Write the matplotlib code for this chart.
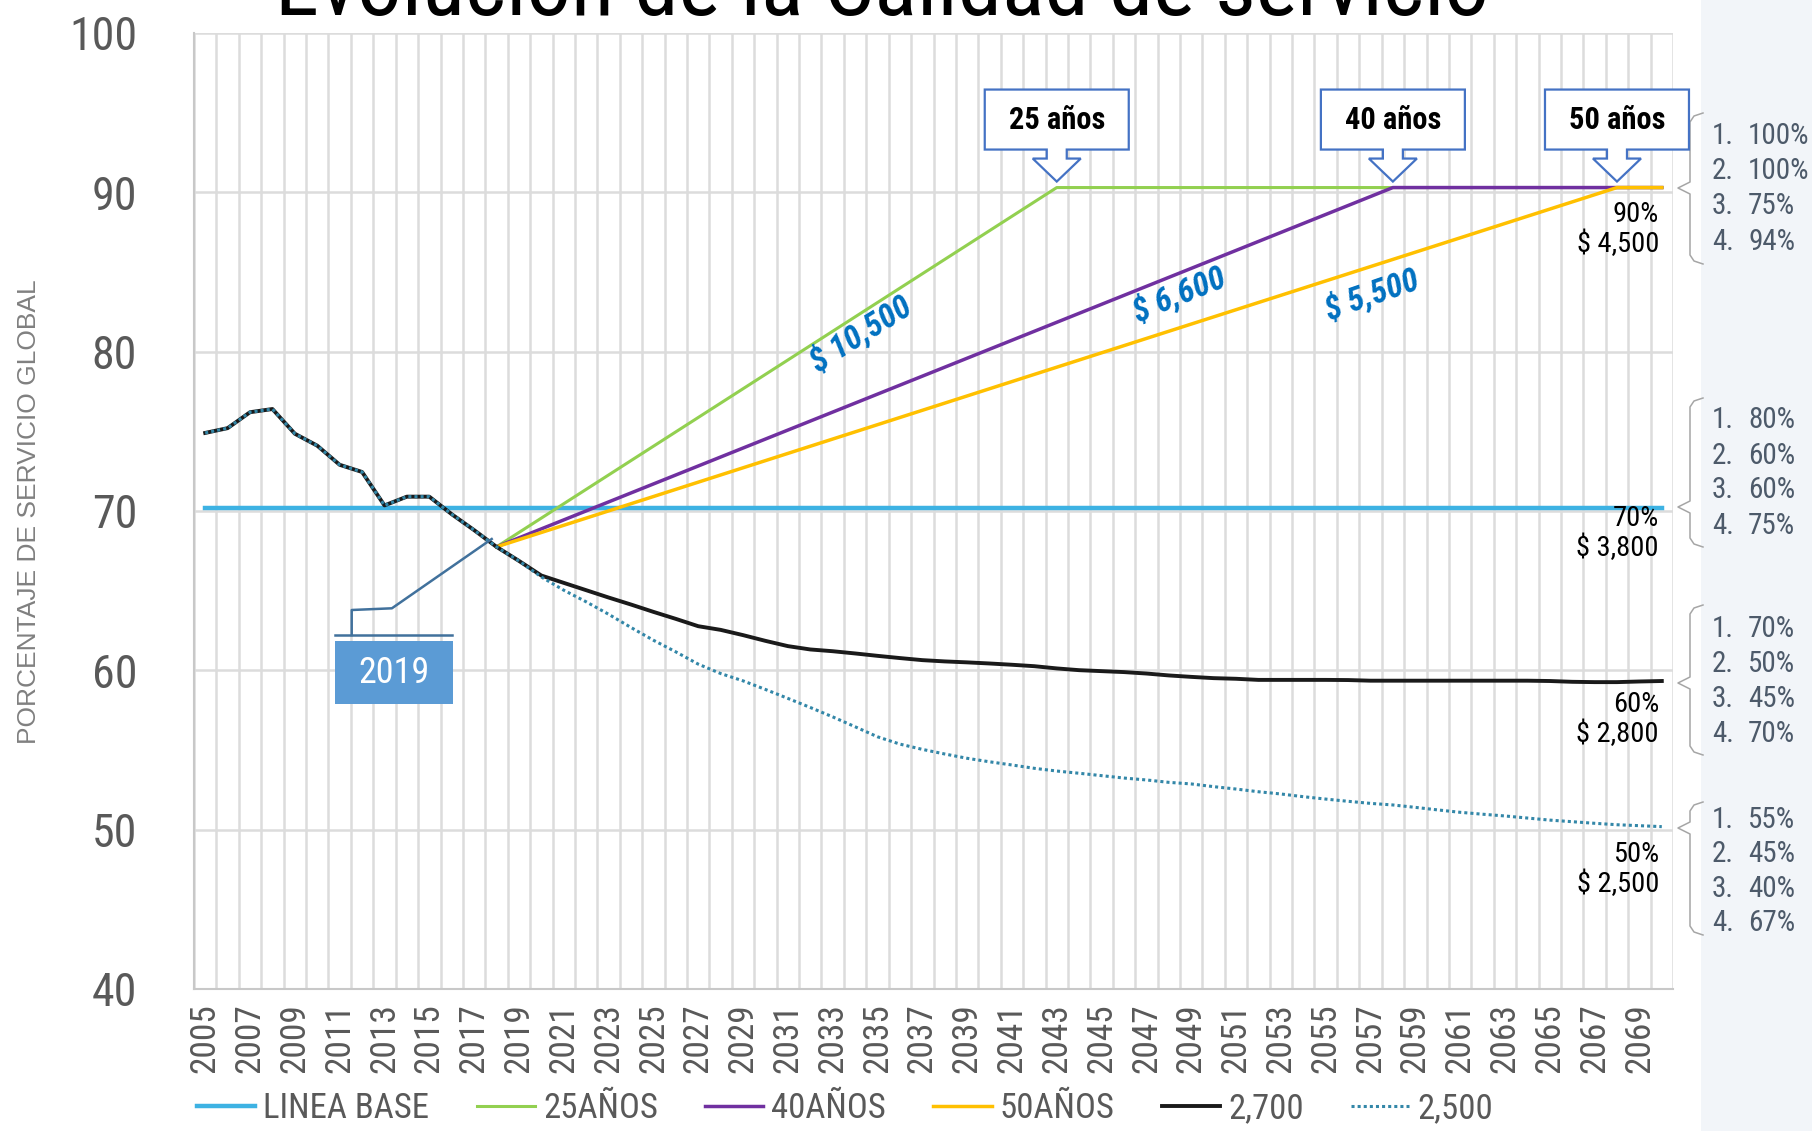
import matplotlib
matplotlib.use('Agg')
import matplotlib.pyplot as plt
from matplotlib.patches import Polygon, Rectangle
from matplotlib.lines import Line2D

# Datos
anios = list(range(2005, 2071))
historico = [74.9, 75.2, 76.2, 76.4, 74.85, 74.1, 72.9, 72.45, 70.35, 70.9, 70.9,
             69.8, 68.8, 67.75]  # 2005-2018
proy_2700 = [66.87, 65.95, 65.49, 65.03, 64.57, 64.13, 63.67, 63.23, 62.77, 62.54,
             62.21, 61.85, 61.52, 61.31, 61.2, 61.06, 60.91, 60.77, 60.64, 60.56,
             60.5, 60.43, 60.35, 60.26, 60.12, 60.01, 59.95, 59.89, 59.8, 59.68,
             59.59, 59.51, 59.47, 59.4, 59.4, 59.4, 59.4, 59.39, 59.35, 59.35,
             59.35, 59.35, 59.35, 59.35, 59.35, 59.35, 59.33, 59.28, 59.26, 59.26,
             59.3, 59.33]  # 2019-2070
proy_2500 = [66.87, 65.86, 65.03, 64.3, 63.52, 62.69, 61.89, 61.16, 60.39, 59.8,
             59.34, 58.8, 58.24, 57.67, 57.08, 56.46, 55.83, 55.37, 55.04, 54.75,
             54.48, 54.26, 54.06, 53.85, 53.68, 53.54, 53.39, 53.24, 53.12, 52.97,
             52.87, 52.7, 52.55, 52.38, 52.24, 52.07, 51.92, 51.78, 51.65, 51.55,
             51.4, 51.24, 51.09, 50.97, 50.86, 50.73, 50.6, 50.5, 50.4, 50.31,
             50.25, 50.19]  # 2019-2070

anios_base = [2005, 2070]
linea_base = [70.2, 70.2]
anios_25 = [2018, 2043, 2070]
valores_25 = [67.75, 90.3, 90.3]
anios_40 = [2018, 2058, 2070]
valores_40 = [67.75, 90.3, 90.3]
anios_50 = [2018, 2068, 2070]
valores_50 = [67.75, 90.3, 90.3]

etiquetas_x = list(range(2005, 2070, 2))
etiquetas_y = [40, 50, 60, 70, 80, 90, 100]

costos_escenario = ['$ 10,500', '$ 6,600', '$ 5,500']
metas = [('90%', '$ 4,500'), ('70%', '$ 3,800'), ('60%', '$ 2,800'), ('50%', '$ 2,500')]
grupos = [['100%', '100%', '75%', '94%'],
          ['80%', '60%', '60%', '75%'],
          ['70%', '50%', '45%', '70%'],
          ['55%', '45%', '40%', '67%']]

NARROW = ['Liberation Sans Narrow', 'Arial Narrow', 'Roboto Condensed', 'Archivo Narrow',
          'PT Sans Narrow', 'IBM Plex Sans Condensed', 'Liberation Sans', 'DejaVu Sans']
GRIS = '#595959'
W, H = 1812, 1131


def fx(x):
    return x / W


def fy(y):
    return 1 - y / H


fig = plt.figure(figsize=(W / 100, H / 100), dpi=100)
ax = fig.add_axes([fx(194), fy(989), (1673 - 194) / W, (989 - 33) / H])

l_base, = ax.plot(anios_base, linea_base, color='#3DB2E3', lw=3.2, zorder=2, label='LINEA BASE')
l25, = ax.plot(anios_25, valores_25, color='#92D050', lw=2.2, zorder=3, label='25AÑOS')
l40, = ax.plot(anios_40, valores_40, color='#7030A0', lw=2.5, zorder=4, label='40AÑOS')
l50, = ax.plot(anios_50, valores_50, color='#FFC000', lw=2.5, zorder=5, label='50AÑOS')
l27, = ax.plot(anios, historico + proy_2700, color='#1A1A1A', lw=2.8, zorder=6, label='2,700')
l25b, = ax.plot(anios, historico + proy_2500, color='#3387A8', lw=2.2, zorder=7,
                linestyle=(0, (1, 1)), label='2,500')

ax.set_xlim(2004.5, 2070.5)
ax.set_ylim(40, 100)
ax.set_xticks(etiquetas_x)
ax.set_xticklabels([str(a) for a in etiquetas_x], rotation=90, fontsize=25.5,
                   color=GRIS, family=NARROW)
ax.set_xticks([a - 0.5 for a in anios] + [2070.5], minor=True)
ax.set_yticks(etiquetas_y)
ax.set_yticklabels([str(v) for v in etiquetas_y], fontsize=33, color=GRIS, family=NARROW)
ax.tick_params(axis='both', which='both', length=0)
ax.tick_params(axis='y', pad=41)
ax.tick_params(axis='x', pad=10)
ax.grid(which='minor', axis='x', color='#DCDCDC', lw=1.8)
ax.grid(which='major', axis='y', color='#DCDCDC', lw=1.8)
ax.set_axisbelow(True)
for lado in ['top', 'right']:
    ax.spines[lado].set_visible(False)
for lado in ['left', 'bottom']:
    ax.spines[lado].set_color('#C8C8C8')
    ax.spines[lado].set_linewidth(1.5)

# Titulo (cortado en el borde superior)
fig.text(fx(882), fy(15), 'Evolución de la Calidad de servicio', ha='center', va='baseline',
         fontsize=64, family=NARROW, color='black')

fig.text(fx(29), fy(512), 'PORCENTAJE DE SERVICIO GLOBAL', rotation=90, ha='center',
         va='center', fontsize=19, color='#808080', family=['Liberation Sans', 'DejaVu Sans'])


# Globos de "años"
def globo(anio, texto):
    tx, ty = ax.transData.transform((anio, 90.3))
    ty = ty + 6
    forma = [(0, 0), (-24, 23), (-10, 23), (-10, 32), (-72, 32), (-72, 92), (72, 92),
             (72, 32), (10, 32), (10, 23), (24, 23)]
    pts = [((tx + dx) / W, (ty + up) / H) for dx, up in forma]
    fig.patches.append(Polygon(pts, closed=True, transform=fig.transFigure,
                               facecolor='white', edgecolor='#4472C4', lw=1.6, zorder=5))
    fig.text(tx / W, (ty + 62) / H, texto, ha='center', va='center', fontsize=22,
             fontweight='bold', family=NARROW, zorder=6)


globo(2043, '25 años')
globo(2058, '40 años')
globo(2068, '50 años')

# Costos sobre las rectas
for texto, (x, y), rot in zip(costos_escenario, [(861, 335), (1179, 295), (1372, 295)], [32, 22, 19]):
    fig.text(fx(x), fy(y), texto, ha='center', va='center', rotation=rot, rotation_mode='anchor',
             fontsize=24, fontweight='bold', fontstyle='italic', color='#0070C0', family=NARROW)

# Etiquetas a la derecha
for (pct, costo), (y1, y2) in zip(metas, [(222, 252), (526, 556), (711.5, 742), (862.5, 892)]):
    fig.text(fx(1659), fy(y1), pct, ha='right', va='baseline', fontsize=20.5, family=NARROW)
    fig.text(fx(1659), fy(y2), costo, ha='right', va='baseline', fontsize=20.5, family=NARROW)

# Llamada 2019
fig.patches.append(Rectangle((fx(334.5), fy(704)), (453 - 334.5) / W, (704 - 641) / H,
                             transform=fig.transFigure, facecolor='#5B9BD5', edgecolor='none'))
fig.text(fx(393.5), fy(673), '2019', ha='center', va='center', fontsize=26, color='white',
         family=NARROW)
fig.add_artist(Line2D([fx(334.5), fx(452)], [fy(635), fy(635)], transform=fig.transFigure,
                      color='#41719C', lw=1.8))
fig.add_artist(Line2D([fx(351.7), fx(351.7), fx(391.9), fx(491.7)],
                      [fy(635), fy(610), fy(608.3), fy(539)], transform=fig.transFigure,
                      color='#41719C', lw=1.8))

# Panel derecho
fig.patches.append(Rectangle((fx(1701), 0), (W - 1701) / W, 1, transform=fig.transFigure,
                             facecolor='#F2F5F9', edgecolor='none', zorder=0))

# Llaves con porcentajes
llaves = [(113, 188, 264), (398, 507, 547), (605, 683, 755), (802, 828, 935)]
filas = [[136, 171, 206.5, 242.5], [420.5, 456, 490.5, 525.7],
         [629, 664.3, 699, 734.5], [820.3, 854.5, 889, 922.6]]
for (top, tip, bot), valores, ys in zip(llaves, grupos, filas):
    xs = [1703, 1694, 1690, 1690, 1678, 1690, 1690, 1694, 1703]
    yy = [top, top + 3, top + 9, tip - 6, tip, tip + 6, bot - 9, bot - 3, bot]
    fig.add_artist(Line2D([fx(x) for x in xs], [fy(y) for y in yy], transform=fig.transFigure,
                          color='#A6A6A6', lw=1.1))
    for k, (val, y) in enumerate(zip(valores, ys)):
        fig.text(fx(1712), fy(y), f'{k + 1}.', ha='left', va='center', fontsize=21,
                 color='#4D5A6A', family=NARROW)
        fig.text(fx(1748), fy(y), val, ha='left', va='center', fontsize=21,
                 color='#4D5A6A', family=NARROW)

fig.legend(handles=[l_base, l25, l40, l50, l27, l25b], loc='center',
           bbox_to_anchor=(fx(845), fy(1109)), ncol=6, frameon=False,
           prop={'family': NARROW, 'size': 25}, labelcolor=GRIS, handlelength=1.68,
           handletextpad=0.23, columnspacing=1.36, borderpad=0)

fig.savefig('out.png', dpi=100)
